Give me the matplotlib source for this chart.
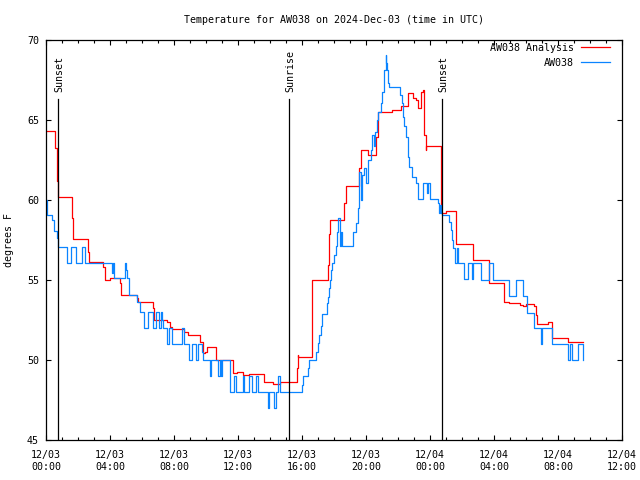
import numpy as np
import matplotlib
matplotlib.use('Agg')
import matplotlib.pyplot as plt

# hours since 2024-12-03 00:00 UTC, temperature in deg F
an_hr = [0.0, 0.59, 0.67, 0.73, 1.64, 1.71, 2.64, 2.71, 3.58, 3.67, 3.98, 4.63, 4.71,
         5.67, 5.75, 6.69, 6.75, 7.58, 7.75, 7.85, 8.64, 8.85, 9.63, 9.79, 9.94, 10.04,
         10.63, 11.69, 11.92, 12.29, 12.71, 13.63, 14.17, 14.63, 15.67, 15.72, 15.75,
         16.6, 16.64, 17.6, 17.69, 17.73, 18.64, 18.73, 19.56, 19.69, 20.1, 20.6, 20.73,
         21.64, 22.19, 22.64, 22.96, 23.13, 23.27, 23.44, 23.58, 23.64, 23.73, 23.78,
         24.67, 25.0, 25.63, 26.69, 27.69, 28.63, 28.96, 29.63, 29.83, 30.0, 30.5, 30.63,
         30.71, 31.39, 31.6, 32.6, 33.58]
an_t = [64.3, 63.25, 61.2, 60.2, 58.9, 57.55, 56.75, 56.1, 55.8, 55.0, 55.1, 54.8, 54.05,
        53.85, 53.6, 53.25, 52.5, 52.4, 52.05, 51.95, 51.75, 51.55, 51.15, 50.45, 50.5, 50.8,
        50.0, 49.2, 49.25, 49.05, 49.1, 48.6, 48.5, 48.6, 49.5, 50.3, 50.2,
        52.6, 55.0, 55.95, 57.85, 58.75, 59.8, 60.9, 62.0, 63.1, 62.8, 63.95, 65.5,
        65.6, 65.9, 66.7, 66.35, 66.25, 65.75, 66.75, 66.9, 64.05, 63.1, 63.35,
        59.2, 59.3, 57.25, 56.25, 54.8, 53.65, 53.55, 53.45, 53.35, 53.5, 53.35, 52.8,
        52.25, 52.35, 51.35, 51.1, 51.1]

ob_hr = [0.0, 0.08, 0.39, 0.5, 0.71, 0.77, 1.34, 1.56, 1.88, 2.25, 2.41, 4.11, 4.17, 4.22,
         4.91, 5.0, 5.09, 5.19, 5.71, 5.86, 6.14, 6.39, 6.71, 6.88, 7.06, 7.17, 7.25, 7.31,
         7.58, 7.69, 7.86, 8.52, 8.64, 8.96, 9.11, 9.38, 9.53, 9.72, 9.83, 10.25, 10.34,
         10.77, 10.88, 10.94, 10.98, 11.5, 11.75, 11.88, 12.29, 12.38, 12.71, 12.88, 13.13,
         13.27, 13.89, 13.96, 14.27, 14.36, 14.52, 14.63, 16.02, 16.08, 16.39, 16.46, 16.88,
         16.98, 17.06, 17.19, 17.27, 17.54, 17.61, 17.69, 17.75, 17.81, 17.89, 18.02, 18.11,
         18.17, 18.27, 18.38, 18.44, 18.52, 19.17, 19.36, 19.48, 19.56, 19.66, 19.72, 19.86,
         20.0, 20.11, 20.31, 20.39, 20.48, 20.56, 20.67, 20.77, 20.94, 21.02, 21.11, 21.14,
         21.23, 21.27, 21.31, 21.36, 21.44, 22.13, 22.23, 22.31, 22.39, 22.5, 22.61, 22.64,
         22.69, 22.89, 23.11, 23.23, 23.27, 23.54, 23.79, 23.89, 24.0, 24.52, 24.58, 24.63,
         24.67, 24.73, 25.21, 25.29, 25.39, 25.44, 25.56, 25.69, 25.75, 26.13, 26.39, 26.61,
         26.66, 27.19, 27.71, 27.96, 28.96, 29.38, 29.79, 30.08, 30.52, 30.96, 31.0, 31.61,
         32.64, 32.77, 32.86, 33.27, 33.54, 33.58]
ob_t = [60.0, 59.05, 58.75, 58.05, 57.6, 57.05, 56.05, 57.05, 56.05, 57.05, 56.05, 55.45,
        56.05, 55.1, 56.05, 55.6, 55.1, 54.05, 53.65, 53.0, 52.0, 53.0, 52.0, 53.0, 52.0,
        53.0, 52.5, 52.0, 51.0, 52.0, 51.0, 52.0, 51.0, 50.0, 51.0, 50.0, 51.0, 50.5, 50.0,
        49.0, 50.0, 49.0, 50.0, 49.0, 50.0, 48.0, 49.0, 48.0, 49.0, 48.0, 49.0, 48.0, 49.0,
        48.0, 47.0, 48.0, 47.0, 48.0, 49.0, 48.0, 48.45, 49.0, 49.5, 50.0, 50.5,
        51.05, 51.55, 52.1, 52.9, 53.55, 53.95, 54.5, 55.0, 55.6, 56.05, 56.55, 57.1,
        58.0, 58.9, 57.1, 58.0, 57.1, 58.0, 58.55, 59.5, 61.75, 60.0, 61.55, 62.0,
        61.05, 62.5, 63.1, 64.05, 63.35, 64.25, 65.0, 65.5, 66.05, 66.75, 67.5, 68.1,
        69.05, 68.55, 68.1, 67.3, 67.05, 66.55, 66.05, 65.2, 64.6, 63.95, 63.35, 62.7,
        62.05, 61.45, 61.05, 60.4, 60.05, 61.05, 60.45, 61.05, 60.05, 59.8, 59.2, 59.7,
        59.2, 59.05, 58.65, 58.1, 57.5, 57.0, 56.05, 57.0, 56.05, 55.05, 56.05, 55.05,
        56.05, 55.0, 56.05, 55.0, 54.0, 55.0, 54.0, 52.95, 52.0, 51.0, 52.0, 51.0,
        50.0, 51.0, 50.0, 51.0, 50.0, 50.0]

sun_hr = [0.75, 15.2, 24.77]
sun_lbl = ['Sunset', 'Sunrise', 'Sunset']

xt_hr = [0, 4, 8, 12, 16, 20, 24, 28, 32, 36]
xt_lbl = ['12/03\n00:00', '12/03\n04:00', '12/03\n08:00', '12/03\n12:00', '12/03\n16:00',
          '12/03\n20:00', '12/04\n00:00', '12/04\n04:00', '12/04\n08:00', '12/04\n12:00']
yt = [45, 50, 55, 60, 65, 70]

plt.rcParams['font.family'] = ['DejaVu Sans Mono', 'DejaVu Sans']
plt.rcParams['font.size'] = 7.2

fig = plt.figure(figsize=(6.4, 4.8), dpi=100)
ax = fig.add_axes([46/640, 40/480, 576/640, 400/480])

ax.step(an_hr, an_t, where='post', color='#ff0000', lw=0.9, label='AW038 Analysis')
ax.step(ob_hr, ob_t, where='post', color='#0a84ff', lw=0.9, label='AW038')

for h, s in zip(sun_hr, sun_lbl):
    ax.axvline(h, ymin=0, ymax=0.853, color='k', lw=0.9)
    ax.text(h + 0.08, 0.871, s, transform=ax.get_xaxis_transform(), rotation=90,
            ha='center', va='bottom')

ax.set_xlim(0, 36)
ax.set_ylim(45, 70)
ax.set_xticks(xt_hr)
ax.set_xticklabels(xt_lbl, linespacing=1.25)
ax.set_xticks(np.arange(0, 37, 1), minor=True)
ax.set_yticks(yt)
ax.tick_params(which='both', direction='in', top=True, right=True, width=0.8)
ax.tick_params(which='major', length=3.5)
ax.tick_params(which='minor', length=2)
ax.tick_params(axis='x', pad=7)
ax.tick_params(axis='y', pad=5)
for sp in ax.spines.values():
    sp.set_linewidth(0.9)

ax.set_ylabel('degrees F')
ax.yaxis.set_label_coords(-0.055, 0.5)
fig.text(334/640, 1 - 20/480, 'Temperature for AW038 on 2024-Dec-03 (time in UTC)',
         ha='center', va='center')

ax.legend(loc='upper right', bbox_to_anchor=(1 - 12/576, 1 - 3/400), frameon=False,
          markerfirst=False, borderpad=0, borderaxespad=0, handlelength=2.9,
          handletextpad=0.7, labelspacing=0.5)

fig.savefig('out.png', dpi=100)
